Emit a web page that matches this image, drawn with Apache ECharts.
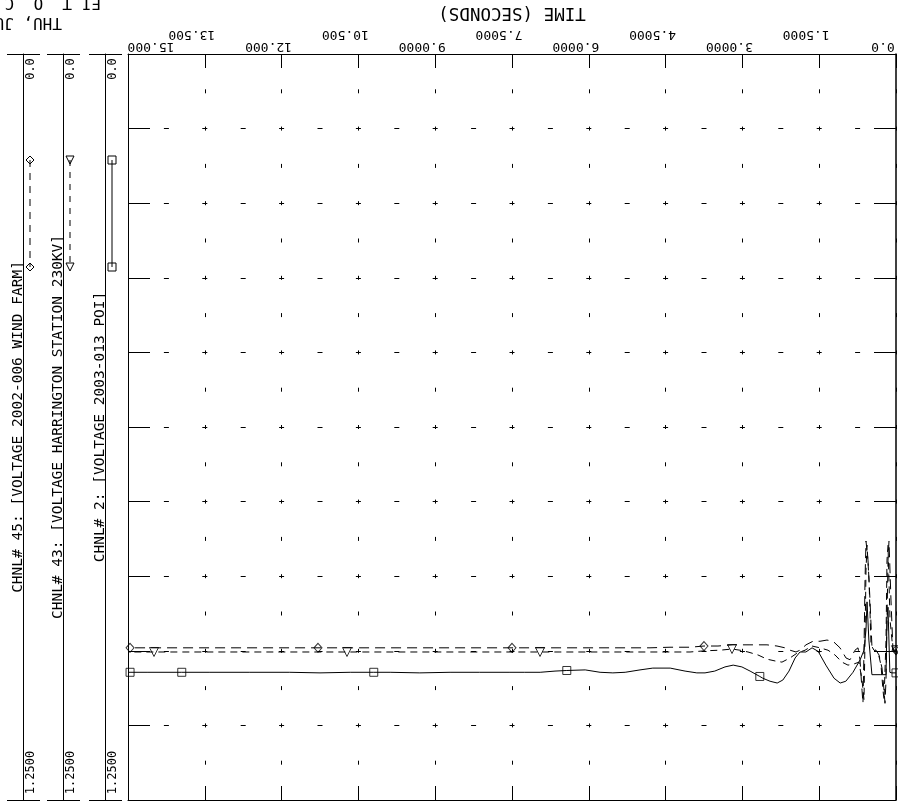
<!DOCTYPE html>
<html><head><meta charset="utf-8">
<script src="https://cdn.jsdelivr.net/npm/echarts@6/dist/echarts.min.js"></script>
<style>html,body{margin:0;padding:0;background:#fff}#c{width:898px;height:803px}</style>
</head><body><div id="c"></div>
<script>
// ---- data ----
const timeTickLabels = ['0.0','1.5000','3.0000','4.5000','6.0000','7.5000','9.0000','10.500','12.000','13.500','15.000'];
const channelNames = ['CHNL# 2: [VOLTAGE 2003-013 POI]', 'CHNL# 43: [VOLTAGE HARRINGTON STATION 230KV]', 'CHNL# 45: [VOLTAGE 2002-006 WIND FARM]'];
const channelScaleLabels = ['0.0', '1.2500'];
const headerLines = ['EI T  O  C', 'THU, JUN 14 2012'];

const ch2Time = [0,0.08,0.12,0.156,0.176,0.195,0.31,0.47,0.53,0.566,0.586,0.625,0.70,0.84,0.98,1.09,1.21,1.37,1.52,1.64,1.76,1.875,1.97,2.09,2.21,2.32,2.46,2.60,2.66,2.85,3.01,3.18,3.34,3.54,3.73,3.89,4.12,4.41,4.75,5.0,5.29,5.53,5.78,6.07,6.43,6.66,6.95,7.25,7.54,8.13,8.71,9.30,9.88,10.20,10.66,11.25,11.84,12.62,13.40,13.95,14.61,14.96,15.0];
const ch2Volt = [1.037,1.037,1.036,0.927,0.948,1.040,1.040,1.040,0.982,0.918,0.965,0.999,1.015,1.036,1.051,1.054,1.046,1.024,1.001,0.995,1.002,1.002,1.012,1.034,1.049,1.054,1.051,1.046,1.043,1.034,1.027,1.024,1.027,1.034,1.037,1.037,1.034,1.029,1.029,1.032,1.036,1.037,1.036,1.032,1.033,1.034,1.036,1.036,1.036,1.036,1.036,1.037,1.036,1.036,1.036,1.037,1.036,1.036,1.036,1.036,1.036,1.036,1.036];
const ch2MarkerTimes = [0,2.66,6.43,10.20,13.95,14.96];

const ch45Time = [0,0.059,0.098,0.137,0.156,0.176,0.195,0.215,0.234,0.273,0.332,0.391,0.469,0.508,0.547,0.586,0.605,0.625,0.645,0.664,0.703,0.742,0.801,0.898,0.977,1.094,1.23,1.348,1.484,1.621,1.758,1.875,1.953,2.07,2.168,2.324,2.52,2.852,3.184,3.477,3.75,4.023,4.414,4.805,5.195,5.781,6.563,7.5,8.125,8.906,9.688,10.469,11.289,12.031,12.813,13.594,14.375,14.96,15.0];
const ch45Volt = [0.999,0.999,0.915,0.816,0.848,0.948,1.049,1.088,1.066,1.029,1.007,0.999,0.995,0.915,0.848,0.816,0.881,0.999,1.088,1.066,1.015,0.995,0.999,1.015,1.012,0.995,0.984,0.982,0.984,0.984,0.990,0.999,1.002,0.999,0.995,0.992,0.990,0.990,0.990,0.992,0.992,0.994,0.994,0.995,0.995,0.995,0.995,0.995,0.995,0.995,0.995,0.995,0.995,0.995,0.995,0.995,0.995,0.995,0.995];
const ch45MarkerTimes = [0,3.75,7.5,11.289,14.96];

const ch43Time = [0,0.059,0.117,0.156,0.176,0.195,0.234,0.254,0.293,0.352,0.43,0.488,0.527,0.566,0.586,0.605,0.625,0.664,0.723,0.82,0.938,1.055,1.191,1.328,1.484,1.641,1.777,1.934,2.07,2.227,2.363,2.52,2.695,2.891,3.047,3.203,3.438,3.73,4.023,4.414,5.0,5.391,5.781,6.172,6.563,6.953,7.734,8.516,9.297,10.078,10.723,11.641,12.422,13.203,13.984,14.492,15.0];
const ch43Volt = [0.999,0.999,0.948,0.823,0.848,0.982,1.082,1.066,1.024,1.002,0.999,0.990,0.881,0.823,0.865,0.982,1.082,1.049,1.019,1.022,1.024,1.019,1.007,0.999,0.995,0.992,0.999,1.004,1.012,1.019,1.017,1.014,1.007,1.002,0.999,0.997,0.999,1.000,1.002,1.002,1.002,1.002,1.002,1.002,1.002,1.002,1.002,1.002,1.002,1.002,1.002,1.002,1.002,1.002,1.002,1.002,1.002];
const ch43MarkerTimes = [0,3.203,6.953,10.723,14.492];

// ---- build ----
const FONT = 'DejaVu Sans Mono';
const pairs = (t, v) => t.map((x, i) => [x, v[i]]);
const markers = (mt, t, v) => mt.map(x => [x, v[t.indexOf(x)]]);

const tickRich = {
  n: {fontFamily: FONT, fontSize: 13, color: '#000', padding: [0, 0, 0, 26]},
  edge: {fontFamily: FONT, fontSize: 13, color: '#000', padding: [0, 46, 0, 0]}
};
const scaleRich = {
  t: {fontFamily: FONT, fontSize: 12, color: '#000', padding: [0, 30, 0, 0]},
  b: {fontFamily: FONT, fontSize: 12, color: '#000', padding: [0, 0, 0, 55]}
};

const black = {color: '#000', width: 1};
const yAxes = [
  {type: 'value', position: 'left', inverse: true, min: 0, max: 1.25, interval: 0.125,
   axisLine: {show: true, onZero: false, lineStyle: black}, axisTick: {show: true, inside: true, length: 22, lineStyle: black},
   axisLabel: {show: false},
   splitLine: {show: true, lineStyle: {color: '#000', width: 1, type: [5, 33.4], dashOffset: 2.5}}},
  {type: 'value', position: 'right', inverse: true, min: 0, max: 1.25, interval: 0.125,
   axisLine: {show: true, onZero: false, lineStyle: {color: '#000', width: 1.5}}, axisTick: {show: true, inside: true, length: 22, lineStyle: black},
   axisLabel: {show: false}, splitLine: {show: false}}
];
const chOffsets = [23, 65, 105];
channelNames.forEach((nm, i) => {
  yAxes.push({type: 'value', position: 'left', offset: chOffsets[i], inverse: true, min: 0, max: 1.25, interval: 1.25,
    axisLine: {show: true, onZero: false, lineStyle: black},
    axisTick: {show: true, inside: false, length: 16, lineStyle: black},
    axisLabel: {show: true, inside: true, rotate: 90, margin: 8, align: 'center', verticalAlign: 'middle',
      showMinLabel: true, showMaxLabel: true,
      formatter: v => v === 0 ? '{t|' + channelScaleLabels[0] + '}' : '{b|' + channelScaleLabels[1] + '}', rich: scaleRich},
    splitLine: {show: false},
    name: nm, nameLocation: 'middle', nameRotate: 90, nameGap: -3, nameMoveOverlap: false,
    nameTextStyle: {fontFamily: FONT, fontSize: 14.5, color: '#000'}});
  yAxes.push({type: 'value', position: 'left', offset: chOffsets[i], inverse: true, min: 0, max: 1.25, interval: 1.25,
    axisLine: {show: false, onZero: false}, axisTick: {show: true, inside: true, length: 17, lineStyle: black},
    axisLabel: {show: false}, splitLine: {show: false}});
});

function legendKey(x, kind) {
  const y1 = 160, y2 = 267, s = 4;
  const ch = [{type: 'line', shape: {x1: x, y1: y1, x2: x, y2: y2},
    style: {stroke: '#000', lineWidth: 1, lineDash: kind === 'rect' ? null : (kind === 'diamond' ? [7, 6] : [6, 6])}}];
  [y1, y2].forEach(y => {
    if (kind === 'rect') ch.push({type: 'rect', shape: {x: x - s, y: y - s, width: 2 * s, height: 2 * s}, style: {fill: 'none', stroke: '#000'}});
    else if (kind === 'diamond') ch.push({type: 'polygon', shape: {points: [[x, y - s], [x + s, y], [x, y + s], [x - s, y]]}, style: {fill: 'none', stroke: '#000'}});
    else ch.push({type: 'polygon', shape: {points: [[x - s, y - s], [x + s, y - s], [x, y + s]]}, style: {fill: 'none', stroke: '#000'}});
  });
  return {type: 'group', children: ch};
}

const markerStyle = {color: 'rgba(0,0,0,0)', borderColor: '#000', borderWidth: 1};

// even-index tick labels on the lower row, odd-index ones on the upper row
const tickFormatter = parity => v => {
  const k = Math.round(v / 1.5);
  if (k % 2 !== parity) return '';
  return '{' + (k === 10 ? 'edge' : 'n') + '|' + timeTickLabels[k] + '}';
};

const option = {
  animation: false,
  backgroundColor: '#fff',
  grid: {left: 128, right: 2, top: 54, bottom: 3, show: false, outerBoundsMode: 'none', containLabel: false},
  xAxis: [
    {type: 'value', position: 'top', inverse: true, min: 0, max: 15, interval: 1.5,
     axisLine: {show: true, onZero: false, lineStyle: black}, axisTick: {show: true, inside: true, length: 14, lineStyle: black},
     axisLabel: {show: true, rotate: 180, margin: 8, align: 'center', verticalAlign: 'middle', showMinLabel: true, showMaxLabel: true,
       formatter: tickFormatter(0), rich: tickRich},
     splitLine: {show: true, lineStyle: {color: '#000', width: 1, type: [4, 33.3], dashOffset: 2}},
     name: 'TIME (SECONDS)', nameLocation: 'middle', nameGap: 41, nameRotate: 180, nameMoveOverlap: false,
     nameTextStyle: {fontFamily: FONT, fontSize: 17.5, color: '#000', align: 'center', verticalAlign: 'middle'}},
    {type: 'value', position: 'top', inverse: true, min: 0, max: 15, interval: 1.5,
     axisLine: {show: false, onZero: false}, axisTick: {show: false},
     axisLabel: {show: true, rotate: 180, margin: 20, align: 'center', verticalAlign: 'middle', showMinLabel: true, showMaxLabel: true,
       formatter: tickFormatter(1), rich: tickRich},
     splitLine: {show: false}},
    {type: 'value', position: 'bottom', inverse: true, min: 0, max: 15, interval: 1.5,
     axisLine: {show: true, onZero: false, lineStyle: black}, axisTick: {show: true, inside: true, length: 14, lineStyle: black},
     axisLabel: {show: false}, splitLine: {show: false}}
  ],
  yAxis: yAxes,
  series: [
    {name: channelNames[0], type: 'line', data: pairs(ch2Time, ch2Volt), symbol: 'none', lineStyle: {color: '#000', width: 1}, z: 3},
    {name: channelNames[1], type: 'line', data: pairs(ch43Time, ch43Volt), symbol: 'none', lineStyle: {color: '#000', width: 1, type: [7, 5]}, z: 3},
    {name: channelNames[2], type: 'line', data: pairs(ch45Time, ch45Volt), symbol: 'none', lineStyle: {color: '#000', width: 1, type: [10, 6]}, z: 3},
    {type: 'scatter', data: markers(ch2MarkerTimes, ch2Time, ch2Volt), symbol: 'rect', symbolSize: 8, itemStyle: markerStyle, z: 4},
    {type: 'scatter', data: markers(ch43MarkerTimes, ch43Time, ch43Volt), symbol: 'triangle', symbolRotate: 180, symbolSize: 9, itemStyle: markerStyle, z: 4},
    {type: 'scatter', data: markers(ch45MarkerTimes, ch45Time, ch45Volt), symbol: 'diamond', symbolSize: [8, 9], itemStyle: markerStyle, z: 4}
  ],
  graphic: [
    legendKey(30, 'diamond'), legendKey(70, 'triangle'), legendKey(112, 'rect'),
    {type: 'text', x: 101, y: 2, rotation: Math.PI, style: {text: headerLines[0], font: '16px "DejaVu Sans Mono"', fill: '#000', textAlign: 'left', textVerticalAlign: 'middle'}},
    {type: 'text', x: 62, y: 22, rotation: Math.PI, style: {text: headerLines[1], font: '16px "DejaVu Sans Mono"', fill: '#000', textAlign: 'left', textVerticalAlign: 'middle'}}
  ]
};
const chart = echarts.init(document.getElementById('c'), null, {renderer: 'canvas'});
chart.setOption(option);
</script></body></html>
